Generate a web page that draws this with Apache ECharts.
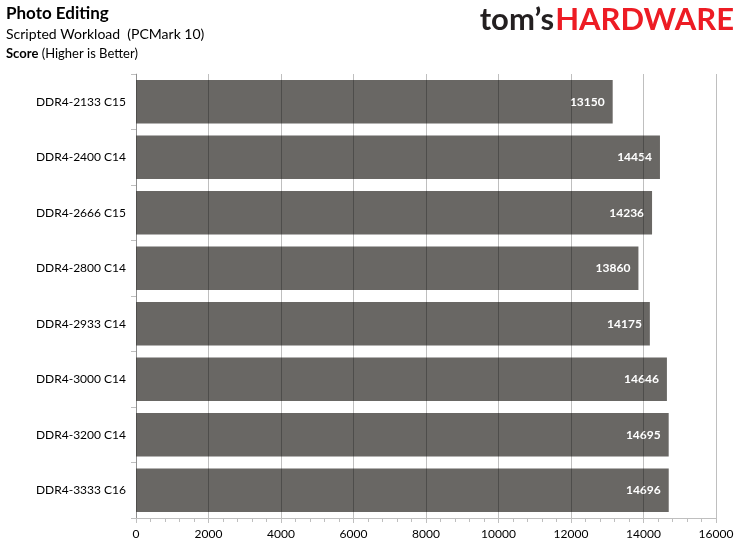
<!DOCTYPE html>
<html>
<head>
<meta charset="utf-8">
<script src="https://cdn.jsdelivr.net/npm/echarts@6/dist/echarts.min.js"></script>
<style>
  html, body { margin: 0; padding: 0; background: #fff; }
  #chart { width: 744px; height: 549px; }
</style>
</head>
<body>
<div id="chart"></div>
<script>
var categories = ['DDR4-2133 C15', 'DDR4-2400 C14', 'DDR4-2666 C15', 'DDR4-2800 C14',
                  'DDR4-2933 C14', 'DDR4-3000 C14', 'DDR4-3200 C14', 'DDR4-3333 C16'];
var scores = [13150, 14454, 14236, 13860, 14175, 14646, 14695, 14696];
var axisMax = 16000;
var axisStep = 2000;

var fontFamily = 'Lato, "Open Sans", sans-serif';
var chart = echarts.init(document.getElementById('chart'));

var option = {
    animation: false,
    textStyle: { fontFamily: fontFamily },
    grid: { left: 136, right: 28, top: 74, bottom: 31, containLabel: false },
    graphic: [
        { type: 'text', left: 6, top: 5,
          style: { text: 'Photo Editing', font: 'bold 17px ' + fontFamily, fill: '#000' } },
        { type: 'text', left: 6, top: 27,
          style: { text: 'Scripted Workload  (PCMark 10)', font: '14px ' + fontFamily, fill: '#000' } },
        { type: 'text', left: 6, top: 47,
          style: {
              text: '{b|Score} (Higher is Better)',
              font: '13px ' + fontFamily, fill: '#000',
              rich: { b: { fontWeight: 'bold', fontSize: 13, fontFamily: fontFamily } }
          } },
        { type: 'text', right: 10, top: 4,
          style: {
              text: '{t|tom\u2019s}{h|HARDWARE}',
              rich: {
                  t: { fontSize: 31, fontWeight: 'bold', fill: '#231f20', fontFamily: fontFamily },
                  h: { fontSize: 31, fontWeight: 'bold', fill: '#ed1c24', fontFamily: fontFamily,
                       padding: [0, 0, 0, 1] }
              }
          } }
    ],
    xAxis: {
        type: 'value',
        min: 0,
        max: axisMax,
        interval: axisStep,
        z: 5,
        axisLine: { show: true, lineStyle: { color: '#bfbfbf' } },
        axisTick: { show: true, length: 5, lineStyle: { color: '#bfbfbf' } },
        minorTick: { show: true, splitNumber: 5, length: 4, lineStyle: { color: '#bfbfbf' } },
        axisLabel: { color: '#000', fontSize: 12, margin: 10, formatter: function (v) { return String(v); } },
        splitLine: { show: true, lineStyle: { color: 'rgba(0,0,0,0.25)', width: 1 } }
    },
    yAxis: {
        type: 'category',
        data: categories,
        inverse: true,
        axisLine: { show: true, lineStyle: { color: '#bfbfbf' } },
        axisTick: { show: true, length: 5, lineStyle: { color: '#bfbfbf' } },
        axisLabel: { color: '#000', fontSize: 12, margin: 10 }
    },
    series: [{
        type: 'bar',
        data: scores,
        barCategoryGap: '22%',
        itemStyle: { color: '#696764' },
        label: {
            show: true,
            position: 'insideRight',
            distance: 8,
            color: '#fff',
            fontWeight: 'bold',
            fontSize: 12,
            fontFamily: fontFamily
        }
    }]
};

chart.setOption(option);
window.addEventListener('resize', function () { chart.resize(); });
</script>
</body>
</html>
